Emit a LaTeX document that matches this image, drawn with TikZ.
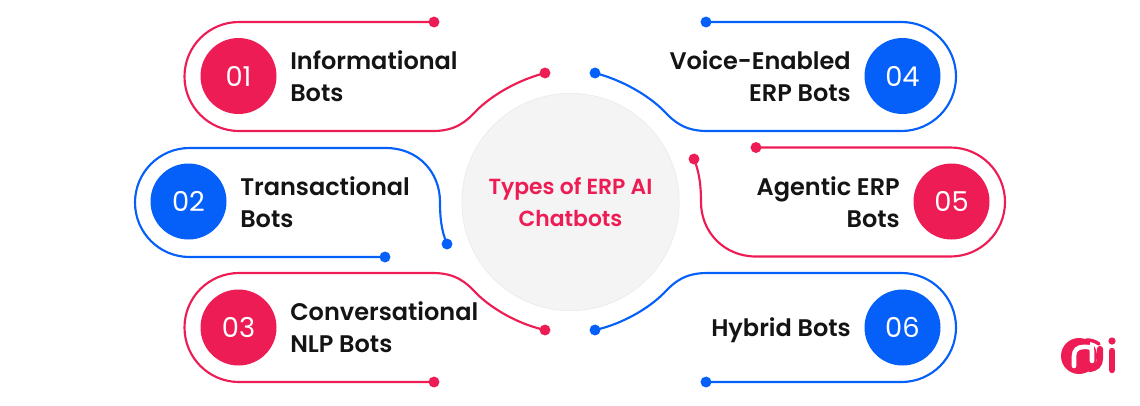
\documentclass[tikz,border=0pt]{standalone}
\usepackage{fontspec}
\setmainfont{Poppins SemiBold}
\newfontfamily\numfont{Poppins}
\definecolor{cred}{HTML}{EE1C55}
\definecolor{cblue}{HTML}{0560FA}
\definecolor{ink}{HTML}{141414}
\tikzset{
  x=0.75pt,y=-0.75pt,
  wire/.style={line width=1.6pt},
  dotmark/.style={circle,inner sep=0pt,minimum size=8.2pt},
  badge/.style={circle,inner sep=0pt,minimum size=57pt,text=white,font=\numfont\fontsize{20.5pt}{22pt}\selectfont},
  lbl/.style={inner sep=0pt,text=ink,font=\fontsize{18pt}{24pt}\selectfont},
}
\begin{document}
\begin{tikzpicture}
\useasboundingbox (0,0) rectangle (1140,405);
\fill[white] (0,0) rectangle (1140,405);
\node[circle,draw=black!8,line width=0.5pt,fill=black!4.5,minimum size=163pt,inner sep=0pt] (hub) at (570.5,202) {};
\node[text=cred,align=center,inner sep=0pt,font=\fontsize{16.4pt}{24pt}\selectfont] (title) at (570.5,202) {Types of ERP AI\\Chatbots};
% dots
\node[dotmark,fill=cred] (a1) at (434,22) {};
\node[dotmark,fill=cred] (b1) at (545,73) {};
\node[dotmark,fill=cblue] (a2) at (385,257) {};
\node[dotmark,fill=cblue] (b2) at (447,244) {};
\node[dotmark,fill=cred] (a3) at (434,382) {};
\node[dotmark,fill=cred] (b3) at (545,330) {};
\node[dotmark,fill=cblue] (a4) at (706,22) {};
\node[dotmark,fill=cblue] (b4) at (595,73) {};
\node[dotmark,fill=cred] (a5) at (756,147.5) {};
\node[dotmark,fill=cred] (b5) at (694,159) {};
\node[dotmark,fill=cblue] (a6) at (706,382) {};
\node[dotmark,fill=cblue] (b6) at (595,330) {};
% badges
\node[badge,fill=cred] (n1) at (238.5,76) {01};
\node[badge,fill=cblue] (n2) at (188.5,201.5) {02};
\node[badge,fill=cred] (n3) at (238.5,327.5) {03};
\node[badge,fill=cblue] (n4) at (902.5,76) {04};
\node[badge,fill=cred] (n5) at (951.5,201.5) {05};
\node[badge,fill=cblue] (n6) at (902.5,327.5) {06};
% wires
\draw[wire,cred] (a1.center) -- (239,22) arc[start angle=-90,end angle=-270,radius=54.5] -- (433,131)
  .. controls (455,131) and (466,122) .. (476,111) .. controls (492,95) and (518,80) .. (b1.center);
\draw[wire,cblue] (a2.center) -- (189.5,257) arc[start angle=90,end angle=270,radius=54.5] -- (386,148)
  .. controls (418,148) and (440,172) .. (440,202) .. controls (440,216) and (441,230) .. (b2.center);
\draw[wire,cred] (a3.center) -- (239,382) arc[start angle=90,end angle=270,radius=54.5] -- (433,273)
  .. controls (455,273) and (466,282) .. (476,293) .. controls (492,309) and (518,324) .. (b3.center);
\draw[wire,cblue] (a4.center) -- (901.5,22) arc[start angle=-90,end angle=90,radius=54.5] -- (707,131)
  .. controls (685,131) and (674,122) .. (664,111) .. controls (648,95) and (622,80) .. (b4.center);
\draw[wire,cred] (a5.center) -- (950.5,147.5) arc[start angle=-90,end angle=90,radius=54.5] -- (756,256.5)
  .. controls (724,256.5) and (701,232) .. (701,202) .. controls (701,188) and (700,174) .. (b5.center);
\draw[wire,cblue] (a6.center) -- (901.5,382) arc[start angle=90,end angle=-90,radius=54.5] -- (707,273)
  .. controls (685,273) and (674,282) .. (664,293) .. controls (648,309) and (622,324) .. (b6.center);
% labels
\node[lbl,anchor=west,align=left] (t1) at (290,76.5) {Informational\\Bots};
\node[lbl,anchor=west,align=left] (t2) at (240,202.5) {Transactional\\Bots};
\node[lbl,anchor=west,align=left] (t3) at (290,327.5) {Conversational\\NLP Bots};
\node[lbl,anchor=east,align=right] (t4) at (851,76.5) {Voice-Enabled\\ERP Bots};
\node[lbl,anchor=east,align=right] (t5) at (900,202.5) {Agentic ERP\\Bots};
\node[lbl,anchor=east] (t6) at (851,330) {Hybrid Bots};
% logo
\fill[cred] (1079,356) circle[radius=18];
\draw[cred,line width=4.6pt,line cap=round] (1100,349) -- (1100,358) .. controls (1100,365) and (1096,368) .. (1090,369);
\draw[white,line width=3.4pt,line cap=round] (1074,366) -- (1074,356) .. controls (1074,350) and (1078,347) .. (1083,347) .. controls (1087,347) and (1092,346) .. (1092,351) -- (1092,361);
\draw[white,line width=3.4pt] (1092,351) -- (1092,341);
\draw[cred,line width=2.6pt,line cap=round] (1086,340) .. controls (1091,340) and (1095,341) .. (1099,344);
\draw[cred,line width=4.8pt,line cap=round] (1112,351) -- (1112,370);
\fill[cred] (1112,341) circle[radius=3.6];
\end{tikzpicture}
\end{document}
